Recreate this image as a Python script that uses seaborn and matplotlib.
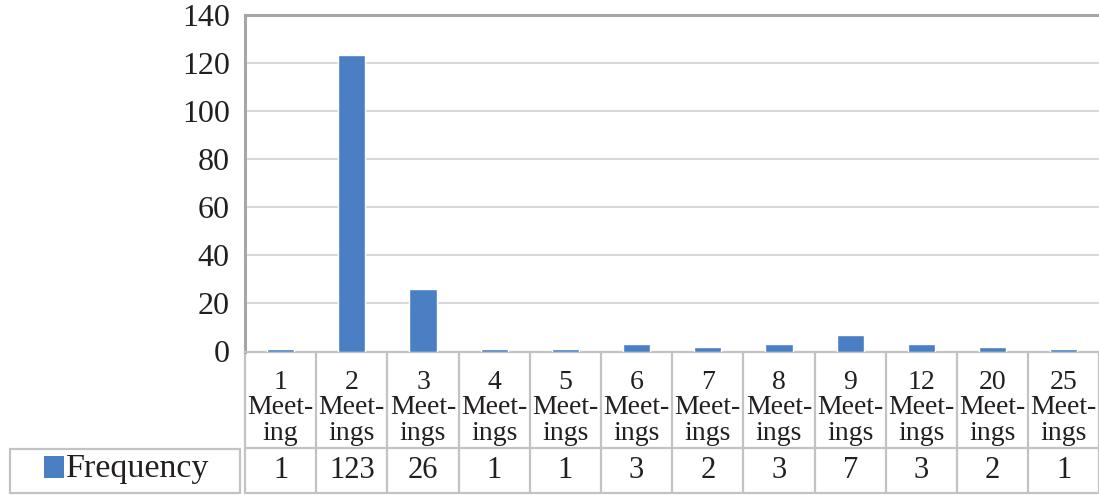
import matplotlib
matplotlib.use("Agg")
import matplotlib.pyplot as plt
import matplotlib.transforms as mtransforms
from matplotlib.patches import Rectangle
import seaborn as sns
import pandas as pd

# Meeting counts and how often each occurred
meeting_counts = ["1", "2", "3", "4", "5", "6", "7", "8", "9", "12", "20", "25"]
category_labels = ["1\nMeet-\ning"] + [f"{m}\nMeet-\nings" for m in meeting_counts[1:]]
frequency = [1, 123, 26, 1, 1, 3, 2, 3, 7, 3, 2, 1]
y_ticks = [0, 20, 40, 60, 80, 100, 120, 140]
series_name = "Frequency"

BAR_COLOR = "#4a80c3"
GRID_COLOR = "#d9d9d9"
AXIS_COLOR = "#a6a6a6"
TABLE_COLOR = "#c3c3c3"
TEXT_COLOR = "#231f20"

W, H = 1099, 495
sns.set_theme(style="white")
plt.rcParams["font.family"] = ["Liberation Serif", "DejaVu Serif"]

fig = plt.figure(figsize=(W / 100, H / 100), dpi=100)

def fy(py):
    """Figure fraction for a pixel row measured from the top."""
    return 1 - py / H

def fx(px):
    return px / W

x_left, x_right = 245, 1099.4
y_top, y_zero = 14.5, 351.5
ax = fig.add_axes([fx(x_left), fy(y_zero), fx(x_right - x_left), (y_zero - y_top) / H])

df = pd.DataFrame({"meetings": category_labels, "count": frequency})
sns.barplot(data=df, x="meetings", y="count", color=BAR_COLOR, saturation=1,
            width=0.38, ax=ax, zorder=3)

ax.set_xlim(-0.5, len(frequency) - 0.5)
ax.set_ylim(0, 140)
ax.set_yticks(y_ticks)
ax.set_yticklabels([str(t) for t in y_ticks], fontsize=23, color=TEXT_COLOR)
ax.tick_params(axis="y", length=0, pad=11)
ax.set_xticks([])
ax.set_xlabel("")
ax.set_ylabel("")
ax.yaxis.grid(True, color=GRID_COLOR, linewidth=1.5, zorder=0)
ax.set_axisbelow(True)

for side in ("left", "top"):
    ax.spines[side].set_color(AXIS_COLOR)
    ax.spines[side].set_linewidth(2.2)
ax.spines["right"].set_visible(False)
ax.spines["bottom"].set_color(TABLE_COLOR)
ax.spines["bottom"].set_linewidth(1.6)

# Data table under the plot: x follows the bar positions, y in figure fraction
blend = mtransforms.blended_transform_factory(ax.transData, fig.transFigure)
n = len(frequency)
row_top, row_mid, row_bot = 352, 447.5, 492.5
line_kw = dict(color=TABLE_COLOR, linewidth=1.6, clip_on=False)

for i in range(n + 1):
    ax.plot([i - 0.5, i - 0.5], [fy(row_top), fy(row_bot)], transform=blend, **line_kw)
ax.plot([-0.5, n - 0.5], [fy(row_mid), fy(row_mid)], transform=blend, **line_kw)
ax.plot([-0.5, n - 0.5], [fy(row_bot), fy(row_bot)], transform=blend, **line_kw)

for i, (lab, val) in enumerate(zip(category_labels, frequency)):
    ax.text(i, fy(408), lab, transform=blend, ha="center", va="center",
            fontsize=20, linespacing=1.02, color=TEXT_COLOR, clip_on=False)
    ax.text(i, fy(471), str(val), transform=blend, ha="center", va="center",
            fontsize=22, color=TEXT_COLOR, clip_on=False)

# Series cell with its colour key
fig.add_artist(Rectangle((fx(10), fy(row_bot)), fx(230), (row_bot - 449) / H,
                         transform=fig.transFigure, fill=False,
                         edgecolor=TABLE_COLOR, linewidth=1.6))
fig.add_artist(Rectangle((fx(44), fy(478)), fx(20), 22 / H,
                         transform=fig.transFigure, facecolor=BAR_COLOR,
                         edgecolor="none"))
fig.text(fx(66), fy(469), series_name, ha="left", va="center",
         fontsize=24.5, color=TEXT_COLOR)

fig.savefig("out.png", dpi=100)
